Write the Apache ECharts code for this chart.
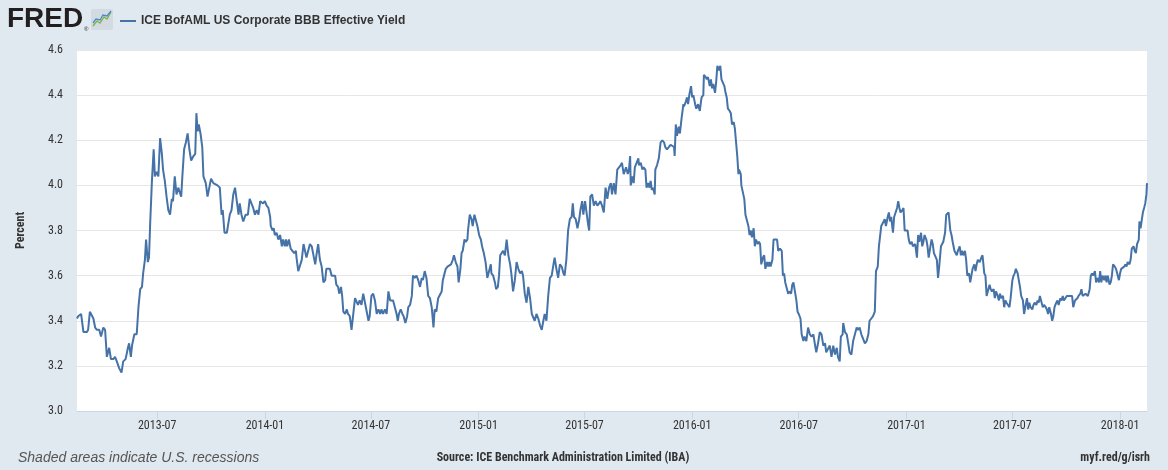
<!DOCTYPE html>
<html>
<head>
<meta charset="utf-8">
<script src="https://cdn.jsdelivr.net/npm/echarts@6/dist/echarts.min.js"></script>
<style>
html,body{margin:0;padding:0;background:#e1e9f0;}
#chart{width:1168px;height:470px;}
</style>
</head>
<body>
<div id="chart"></div>
<script>
// Observation dates as day offsets from 2013-02-14, and the yield (percent) on that day
const seriesName = 'ICE BofAML US Corporate BBB Effective Yield';
const startYear = 2013, startMonth = 2, startDay = 14;
const lastDayOffset = 1828;

const obsDay = [
  0,2,7,11,17,19,22,25,28,31,34,38,41,45,48,51,55,58,62,65,
  68,72,76,79,83,87,89,92,94,98,102,105,108,111,113,116,118,121,123,125,
  128,131,133,136,139,142,145,147,150,153,156,159,162,164,167,170,173,178,180,183,
  186,189,192,195,199,202,204,206,208,211,214,216,220,223,226,229,233,236,240,244,
  247,249,252,256,258,261,264,267,270,273,276,278,281,284,288,292,295,298,301,304,
  307,310,
  313,315,318,321,324,327,330,331,334,336,338,341,344,347,350,352,355,357,359,362,
  365,368,371,374,375,378,381,384,387,389,392,395,398,401,404,407,409,412,415,418,
  421,424,426,429,432,435,438,441,443,446,448,451,453,455,458,461,463,466,469,472,
  475,478,480,483,486,489,492,495,498,500,503,506,509,512,515,518,520,523,526,529,
  532,535,537,540,543,546,548,550,553,556,558,561,564,566,569,572,574,577,580,583,
  586,589,591,594,597,600,603,606,609,611,614,617,
  620,623,625,627,630,633,636,639,642,644,647,650,652,655,657,659,662,664,667,668,
  671,674,676,679,681,684,687,690,692,695,698,701,704,707,708,711,714,716,719,721,
  723,725,728,731,734,737,740,742,745,748,751,754,757,760,762,765,768,771,774,777,
  779,782,785,788,791,794,796,799,802,805,808,811,814,816,819,822,825,828,831,833,
  836,839,842,845,847,849,852,855,858,860,863,865,868,871,873,875,877,880,883,886,
  889,892,894,897,900,903,906,909,912,914,917,920,923,926,
  929,931,934,936,938,941,943,945,946,949,951,953,956,959,960,963,966,968,971,973,
  976,978,980,982,984,987,988,991,994,997,1000,1003,1005,1008,1011,1014,1017,1020,1021,1023,
  1025,1028,1030,1033,1036,1037,1040,1042,1044,1046,1049,1051,1053,1056,1058,1061,1064,1067,1070,1071,
  1074,1076,1078,1081,1083,1085,1087,1090,1092,1094,1097,1099,1101,1103,1106,1108,1110,1112,1115,1117,
  1119,1122,1124,1126,1128,1130,1131,1134,1135,1138,1140,1142,1144,1147,1149,1151,1153,1156,1158,1160,
  1163,1165,1167,1169,1172,1174,1176,1179,1181,1183,1185,1188,1190,1193,1196,1198,1201,1204,1206,1208,
  1210,1213,1215,1217,1220,1222,1224,1226,1229,1231,1233,
  1236,1238,1241,1243,1246,1249,1252,1255,1258,1261,1263,1266,1269,1272,1275,1278,1280,1283,1286,1289,
  1292,1295,1298,1300,1303,1305,1308,1309,1312,1315,1317,1320,1323,1326,1329,1332,1334,1337,1340,1343,
  1346,1349,1352,1354,1357,1360,1363,1365,1368,1370,1372,1374,1377,1380,1382,1385,1387,1389,1391,1394,
  1396,1398,1401,1403,1405,1407,1410,1412,1414,1416,1419,1421,1423,1426,1428,1430,1432,1435,1437,1439,
  1442,1444,1446,1448,1451,1453,1455,1458,1460,1462,1464,1467,1469,1471,1473,1476,1478,1480,1483,1485,
  1487,1489,1492,1494,1496,1499,1501,1503,1505,1508,1510,1512,1514,1517,1519,1521,1524,1526,1528,1530,
  1533,1535,1537,1539,1542,
  1545,1547,1550,1552,1554,1557,1559,1561,1563,1566,1568,1570,1573,1575,1577,1579,1582,1584,1586,1588,
  1591,1593,1595,1598,1600,1602,1604,1607,1609,1611,1613,1616,1618,1620,1623,1625,1627,1629,1632,1634,
  1636,1639,1641,1643,1645,1648,1650,1652,1655,1657,1659,1661,1664,1666,1668,1670,1673,1675,1677,1680,
  1682,1684,1686,1689,1691,1693,1696,1698,1700,1702,1705,1707,1709,1711,1714,1716,1718,1721,1723,1725,
  1727,1730,1732,1734,1736,1739,1741,1743,1746,1748,1750,1752,1755,1757,1759,1761,1764,1766,1768,1770,
  1773,1775,1777,1780,1782,1784,1786,1789,1791,1793,1795,1798,1800,1802,1805,1807,1809,1811,1814,1815,
  1817,1819,1821,1823,1825,1827,1828
];

const yieldPct = [
  3.41,3.42,3.43,3.35,3.35,3.36,3.44,3.44,3.41,3.37,3.36,3.36,3.33,3.37,3.36,3.24,3.28,3.23,3.23,3.24,
  3.22,3.19,3.17,3.22,3.23,3.28,3.30,3.24,3.29,3.34,3.34,3.46,3.54,3.55,3.61,3.67,3.76,3.66,3.68,3.83,
  4.02,4.16,4.04,4.06,4.04,4.21,4.14,4.07,4.02,3.95,3.89,3.87,3.94,3.93,4.04,3.96,3.99,3.95,4.04,4.16,
  4.19,4.23,4.16,4.11,4.13,4.14,4.32,4.24,4.27,4.23,4.17,4.04,4.01,3.95,3.99,4.03,4.01,4.01,4.00,3.99,
  3.87,3.89,3.79,3.79,3.79,3.87,3.89,3.96,3.99,3.93,3.87,3.92,3.87,3.84,3.87,3.87,3.94,3.92,3.90,3.87,
  3.89,3.87,
  3.93,3.93,3.92,3.93,3.91,3.90,3.86,3.82,3.80,3.81,3.78,3.79,3.76,3.78,3.73,3.76,3.73,3.76,3.73,3.76,
  3.72,3.71,3.70,3.71,3.68,3.62,3.62,3.67,3.74,3.74,3.68,3.68,3.74,3.73,3.73,3.65,3.69,3.74,3.67,3.64,
  3.57,3.58,3.63,3.63,3.63,3.60,3.60,3.60,3.56,3.55,3.52,3.55,3.51,3.44,3.43,3.45,3.43,3.42,3.36,3.43,
  3.50,3.50,3.47,3.49,3.47,3.52,3.48,3.48,3.40,3.42,3.51,3.52,3.49,3.43,3.45,3.43,3.45,3.43,3.45,3.43,
  3.53,3.49,3.49,3.49,3.46,3.43,3.40,3.43,3.45,3.43,3.42,3.39,3.42,3.46,3.47,3.51,3.60,3.59,3.60,3.58,
  3.55,3.59,3.58,3.62,3.59,3.51,3.50,3.46,3.37,3.45,3.44,3.50,
  3.50,3.53,3.58,3.60,3.63,3.64,3.64,3.65,3.67,3.69,3.66,3.64,3.57,3.63,3.70,3.71,3.76,3.75,3.76,3.80,
  3.87,3.85,3.82,3.87,3.85,3.82,3.78,3.76,3.73,3.70,3.66,3.59,3.62,3.65,3.61,3.60,3.57,3.54,3.55,3.60,
  3.69,3.69,3.71,3.69,3.76,3.69,3.65,3.61,3.53,3.58,3.66,3.63,3.61,3.62,3.60,3.52,3.48,3.55,3.50,3.43,
  3.43,3.40,3.43,3.41,3.38,3.36,3.39,3.43,3.40,3.51,3.59,3.60,3.65,3.68,3.63,3.59,3.65,3.64,3.61,3.60,
  3.67,3.80,3.85,3.86,3.92,3.86,3.85,3.81,3.85,3.89,3.93,3.87,3.93,3.87,3.83,3.80,3.95,3.96,3.91,3.93,
  3.91,3.92,3.93,3.91,3.88,3.99,3.94,3.99,4.01,3.96,4.01,3.96,4.07,4.08,
  4.09,4.10,4.05,4.05,4.08,4.05,4.07,4.13,4.00,4.04,4.01,4.08,4.08,4.12,4.09,4.10,4.07,4.08,4.07,3.99,
  4.01,3.99,4.02,3.98,3.99,3.96,4.07,4.09,4.12,4.19,4.20,4.19,4.17,4.16,4.17,4.18,4.18,4.17,4.13,4.27,
  4.22,4.26,4.23,4.30,4.36,4.35,4.37,4.39,4.36,4.40,4.44,4.39,4.40,4.36,4.34,4.36,4.33,4.39,4.40,4.49,
  4.48,4.47,4.48,4.44,4.47,4.43,4.45,4.41,4.46,4.53,4.51,4.53,4.47,4.47,4.44,4.41,4.39,4.34,4.33,4.32,
  4.27,4.28,4.25,4.19,4.13,4.05,4.07,4.05,4.00,4.00,3.94,3.87,3.85,3.82,3.78,3.80,3.77,3.81,3.73,3.76,
  3.74,3.75,3.74,3.65,3.68,3.69,3.63,3.66,3.64,3.66,3.64,3.67,3.76,3.76,3.76,3.71,3.72,3.71,3.60,3.61,
  3.57,3.54,3.52,3.53,3.52,3.56,3.57,3.57,3.49,3.44,3.43,
  3.41,3.34,3.31,3.33,3.31,3.37,3.34,3.33,3.34,3.29,3.26,3.30,3.35,3.34,3.29,3.30,3.26,3.26,3.29,3.24,
  3.29,3.25,3.28,3.24,3.22,3.33,3.34,3.39,3.35,3.34,3.31,3.26,3.25,3.31,3.31,3.37,3.36,3.37,3.34,3.32,
  3.30,3.31,3.34,3.40,3.41,3.42,3.44,3.62,3.64,3.73,3.73,3.82,3.82,3.85,3.82,3.86,3.88,3.84,3.86,3.79,
  3.86,3.86,3.90,3.93,3.90,3.88,3.89,3.90,3.80,3.80,3.80,3.76,3.74,3.75,3.73,3.73,3.74,3.68,3.78,3.75,
  3.79,3.73,3.75,3.78,3.76,3.73,3.68,3.73,3.76,3.74,3.70,3.70,3.67,3.59,3.64,3.73,3.73,3.75,3.79,3.87,
  3.87,3.88,3.80,3.78,3.75,3.71,3.70,3.69,3.71,3.73,3.69,3.71,3.69,3.71,3.67,3.60,3.61,3.57,3.60,3.63,
  3.65,3.62,3.65,3.67,3.66,
  3.68,3.69,3.61,3.60,3.51,3.54,3.56,3.54,3.53,3.54,3.50,3.53,3.51,3.49,3.52,3.50,3.51,3.46,3.49,3.48,
  3.48,3.46,3.50,3.58,3.60,3.61,3.63,3.61,3.58,3.55,3.51,3.49,3.43,3.46,3.50,3.45,3.48,3.46,3.45,3.47,
  3.48,3.47,3.49,3.48,3.51,3.48,3.46,3.47,3.46,3.45,3.43,3.46,3.43,3.40,3.42,3.46,3.48,3.49,3.47,3.50,
  3.49,3.51,3.49,3.49,3.51,3.51,3.51,3.51,3.51,3.46,3.49,3.49,3.50,3.51,3.52,3.54,3.51,3.51,3.52,3.52,
  3.51,3.54,3.60,3.61,3.60,3.62,3.57,3.59,3.57,3.62,3.57,3.60,3.58,3.60,3.57,3.60,3.56,3.57,3.60,3.65,
  3.64,3.63,3.61,3.58,3.61,3.63,3.63,3.64,3.65,3.64,3.66,3.65,3.67,3.72,3.73,3.71,3.70,3.74,3.76,3.84,
  3.81,3.81,3.88,3.90,3.92,3.96,4.01
];

const xTickLabels = ['2013-07','2014-01','2014-07','2015-01','2015-07','2016-01','2016-07','2017-01','2017-07','2018-01'];
const yMin = 3.0, yMax = 4.6, yStep = 0.2;

const DAY = 86400000;
const t0 = Date.UTC(startYear, startMonth - 1, startDay);
const xTickTimes = xTickLabels.map(s => Date.UTC(+s.slice(0, 4), +s.slice(5, 7) - 1, 1));
const n = Math.min(obsDay.length, yieldPct.length);
const lineData = [];
for (let i = 0; i < n; i++) lineData.push([t0 + obsDay[i] * DAY, yieldPct[i]]);

const condensed = "'Roboto Condensed','Liberation Sans Narrow','DejaVu Sans Condensed',Roboto,sans-serif";

const chart = echarts.init(document.getElementById('chart'));
chart.setOption({
  animation: false,
  backgroundColor: '#e1e9f0',
  grid: { left: 77, right: 21, top: 50, bottom: 59, show: true, backgroundColor: '#ffffff', borderWidth: 0 },
  legend: {
    left: 115, top: 10, itemWidth: 16, itemHeight: 2, itemGap: 10,
    icon: 'rect',
    textStyle: { fontFamily: 'Liberation Sans, Arial, sans-serif', fontWeight: 'bold', fontSize: 12, color: '#333' },
    data: [seriesName]
  },
  xAxis: {
    type: 'value',
    min: t0, max: t0 + lastDayOffset * DAY,
    axisLine: { show: true, lineStyle: { color: '#ccd6eb', width: 1 } },
    axisTick: { show: true, customValues: xTickTimes, length: 8, lineStyle: { color: '#ccd6eb' } },
    splitLine: { show: false },
    axisLabel: {
      customValues: xTickTimes,
      margin: 9,
      fontFamily: condensed, fontSize: 12, color: '#333',
      formatter: function (v) {
        let best = 0, bd = Infinity;
        xTickTimes.forEach((t, i) => { const d = Math.abs(t - v); if (d < bd) { bd = d; best = i; } });
        return xTickLabels[best];
      }
    }
  },
  yAxis: {
    type: 'value', min: yMin, max: yMax, interval: yStep,
    name: 'Percent', nameLocation: 'middle', nameGap: 50, nameRotate: 90,
    nameTextStyle: { fontFamily: condensed, fontSize: 12, fontWeight: 'bold', color: '#333' },
    axisLine: { show: false }, axisTick: { show: false },
    splitLine: { show: true, lineStyle: { color: '#e6e6e6', width: 1 } },
    axisLabel: { margin: 14, fontFamily: condensed, fontSize: 12, color: '#333', formatter: v => v.toFixed(1) }
  },
  series: [{
    name: seriesName,
    type: 'line',
    data: lineData,
    showSymbol: false,
    symbol: 'none',
    lineStyle: { color: '#4572a7', width: 2 },
    itemStyle: { color: '#4572a7' }
  }],
  graphic: [
    { type: 'text', x: 7, y: 19, style: { text: 'FRED', font: "bold 28px 'Liberation Sans', Arial, sans-serif", fill: '#231f20', verticalAlign: 'middle' } },
    { type: 'text', x: 84, y: 29, style: { text: '®', font: "6px 'Liberation Sans', sans-serif", fill: '#231f20', verticalAlign: 'middle' } },
    { type: 'rect', shape: { x: 91, y: 9, width: 22, height: 21, r: 2 }, style: { fill: '#d3dae1' } },
    { type: 'polyline', shape: { points: [[93, 26], [97, 21], [100, 23], [104, 17], [107, 19], [111, 12]] }, style: { stroke: '#7ab648', lineWidth: 1.3, fill: null } },
    { type: 'polyline', shape: { points: [[93, 23], [96, 19], [100, 20], [103, 15], [107, 16], [111, 11]] }, style: { stroke: '#4d89c9', lineWidth: 1.3, fill: null } },
    { type: 'text', x: 18, y: 458, style: { text: 'Shaded areas indicate U.S. recessions', font: "italic 14px 'Liberation Sans', Arial, sans-serif", fill: '#555', verticalAlign: 'middle' } },
    { type: 'text', x: 563, y: 458, style: { text: 'Source: ICE Benchmark Administration Limited (IBA)', font: "bold 12px " + condensed, fill: '#333', align: 'center', verticalAlign: 'middle' } },
    { type: 'text', x: 1150, y: 458, style: { text: 'myf.red/g/isrh', font: "bold 12px " + condensed, fill: '#333', align: 'right', verticalAlign: 'middle' } }
  ]
});
</script>
</body>
</html>
